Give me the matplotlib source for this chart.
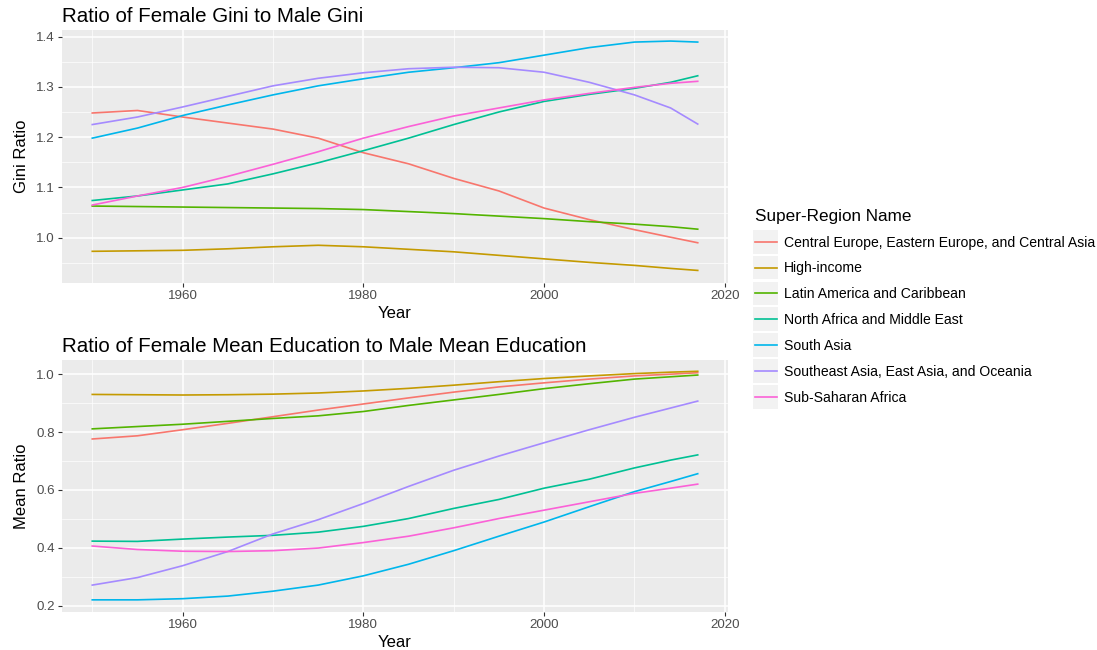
import matplotlib
matplotlib.use("Agg")
import matplotlib.pyplot as plt
from matplotlib.ticker import MultipleLocator
from matplotlib.legend_handler import HandlerLine2D
from matplotlib.patches import Rectangle

plt.rcParams['font.family'] = ['Liberation Sans', 'DejaVu Sans']

years = [1950, 1955, 1960, 1965, 1970, 1975, 1980, 1985, 1990, 1995, 2000, 2005, 2010, 2014, 2017]

regions = [
    "Central Europe, Eastern Europe, and Central Asia",
    "High-income",
    "Latin America and Caribbean",
    "North Africa and Middle East",
    "South Asia",
    "Southeast Asia, East Asia, and Oceania",
    "Sub-Saharan Africa",
]
colors = ["#F8766D", "#C49A00", "#53B400", "#00C094", "#00B6EB", "#A58AFF", "#FB61D7"]

# ratio of female gini to male gini
gini_central_europe = [1.248, 1.253, 1.240, 1.228, 1.216, 1.198, 1.169, 1.147, 1.118, 1.093, 1.059, 1.036, 1.016, 1.001, 0.990]
gini_high_income = [0.973, 0.974, 0.975, 0.978, 0.982, 0.985, 0.982, 0.977, 0.972, 0.965, 0.958, 0.951, 0.945, 0.939, 0.935]
gini_latin_america = [1.063, 1.062, 1.061, 1.060, 1.059, 1.058, 1.056, 1.052, 1.048, 1.043, 1.038, 1.032, 1.027, 1.022, 1.017]
gini_north_africa = [1.074, 1.083, 1.095, 1.107, 1.127, 1.149, 1.173, 1.198, 1.225, 1.250, 1.271, 1.285, 1.297, 1.309, 1.322]
gini_south_asia = [1.198, 1.218, 1.243, 1.264, 1.284, 1.302, 1.316, 1.329, 1.338, 1.348, 1.363, 1.378, 1.389, 1.391, 1.389]
gini_southeast_asia = [1.225, 1.240, 1.260, 1.281, 1.302, 1.317, 1.328, 1.336, 1.339, 1.338, 1.329, 1.309, 1.284, 1.258, 1.226]
gini_sub_saharan = [1.065, 1.083, 1.100, 1.122, 1.146, 1.171, 1.198, 1.221, 1.242, 1.258, 1.274, 1.287, 1.299, 1.307, 1.311]

# ratio of female mean education to male mean education
edu_central_europe = [0.776, 0.787, 0.808, 0.830, 0.853, 0.876, 0.897, 0.918, 0.938, 0.956, 0.970, 0.983, 0.994, 1.000, 1.005]
edu_high_income = [0.930, 0.929, 0.928, 0.929, 0.931, 0.935, 0.942, 0.951, 0.962, 0.974, 0.985, 0.994, 1.002, 1.007, 1.010]
edu_latin_america = [0.811, 0.819, 0.827, 0.837, 0.847, 0.856, 0.871, 0.892, 0.911, 0.930, 0.950, 0.967, 0.983, 0.991, 0.997]
edu_north_africa = [0.423, 0.422, 0.430, 0.437, 0.443, 0.454, 0.474, 0.501, 0.536, 0.567, 0.606, 0.637, 0.676, 0.703, 0.721]
edu_south_asia = [0.220, 0.220, 0.224, 0.233, 0.250, 0.271, 0.303, 0.343, 0.390, 0.440, 0.489, 0.542, 0.594, 0.629, 0.656]
edu_southeast_asia = [0.271, 0.297, 0.338, 0.387, 0.448, 0.497, 0.553, 0.612, 0.668, 0.717, 0.763, 0.808, 0.851, 0.883, 0.907]
edu_sub_saharan = [0.406, 0.394, 0.388, 0.387, 0.390, 0.399, 0.418, 0.440, 0.469, 0.501, 0.530, 0.559, 0.588, 0.606, 0.620]

gini_series = [gini_central_europe, gini_high_income, gini_latin_america, gini_north_africa,
               gini_south_asia, gini_southeast_asia, gini_sub_saharan]
edu_series = [edu_central_europe, edu_high_income, edu_latin_america, edu_north_africa,
              edu_south_asia, edu_southeast_asia, edu_sub_saharan]


class KeyHandler(HandlerLine2D):
    # ggplot-like legend key: grey box behind the line
    def create_artists(self, legend, orig_handle, xdescent, ydescent, width, height, fontsize, trans):
        cy = height / 2 - ydescent
        box = Rectangle((-xdescent - 1, cy - 8.6), width + 2, 17.2, facecolor="#F2F2F2",
                        edgecolor="none", transform=trans)
        arts = super().create_artists(legend, orig_handle, xdescent, ydescent, width, height, fontsize, trans)
        return [box] + arts


fig = plt.figure(figsize=(10.97, 6.5), dpi=100)
ax1 = fig.add_axes([62 / 1097, 1 - 283 / 650, 666 / 1097, 253 / 650])
ax2 = fig.add_axes([62 / 1097, 1 - 612 / 650, 666 / 1097, 252 / 650])


def style_axes(ax, major, minor, ylim):
    ax.set_facecolor("#EBEBEB")
    for s in ax.spines.values():
        s.set_visible(False)
    ax.set_xlim(1946.65, 2020.35)
    ax.set_ylim(*ylim)
    ax.xaxis.set_major_locator(MultipleLocator(20))
    ax.xaxis.set_minor_locator(MultipleLocator(10))
    ax.yaxis.set_major_locator(MultipleLocator(major))
    ax.yaxis.set_minor_locator(MultipleLocator(minor))
    ax.grid(which="major", color="white", linewidth=1.1)
    ax.grid(which="minor", color="white", linewidth=0.5)
    ax.set_axisbelow(True)
    ax.tick_params(which="major", length=3, color="#333333", labelsize=9.6, labelcolor="#4D4D4D", pad=2)
    ax.tick_params(which="minor", length=0)
    ax.set_xlabel("Year", fontsize=12, labelpad=3)
    ax.yaxis.set_major_formatter(plt.FuncFormatter(lambda v, p: f"{v:.1f}"))


lines = []
for name, col, vals in zip(regions, colors, gini_series):
    ln, = ax1.plot(years, vals, color=col, linewidth=1.2, label=name)
    lines.append(ln)
for col, vals in zip(colors, edu_series):
    ax2.plot(years, vals, color=col, linewidth=1.2)

style_axes(ax1, 0.1, 0.05, (0.910, 1.413))
style_axes(ax2, 0.2, 0.1, (0.178, 1.049))

ax1.set_ylabel("Gini Ratio", fontsize=12, labelpad=5)
ax2.set_ylabel("Mean Ratio", fontsize=12, labelpad=5)
ax1.set_title("Ratio of Female Gini to Male Gini", loc="left", fontsize=14.8, pad=6)
ax2.set_title("Ratio of Female Mean Education to Male Mean Education", loc="left", fontsize=14.8, pad=6)

leg = fig.legend(handles=lines, loc="upper left", bbox_to_anchor=(749 / 1097, 1 - 203 / 650),
                 frameon=False, title="Super-Region Name", title_fontsize=12.3, fontsize=10.1,
                 handlelength=1.6, handletextpad=0.5, labelspacing=0.85, borderaxespad=0,
                 handler_map={plt.Line2D: KeyHandler()})
leg._legend_box.align = "left"

fig.savefig("out.png", dpi=100)
